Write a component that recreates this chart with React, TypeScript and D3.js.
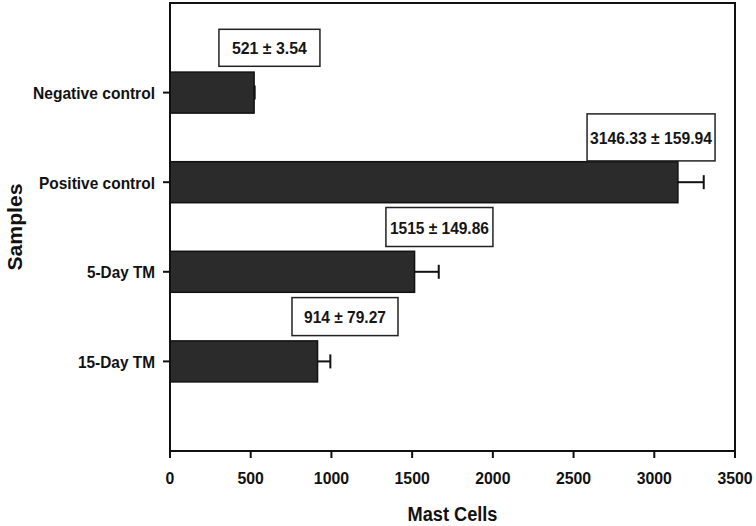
import React from "react";
import * as d3 from "d3";

const categories = ["Negative control", "Positive control", "5-Day TM", "15-Day TM"];
const means = [521, 3146.33, 1515, 914];
const errors = [3.54, 159.94, 149.86, 79.27];
const valueLabels = ["521 ± 3.54", "3146.33 ± 159.94", "1515 ± 149.86", "914 ± 79.27"];
const xTicks = [0, 500, 1000, 1500, 2000, 2500, 3000, 3500];

// annotation layout (label box centre in data units, box size in px, text width)
const labelCenters = [616, 2980, 1669, 1084];
const labelBox = [
  { w: 101, h: 37, tw: 75 },
  { w: 128, h: 47, tw: 122 },
  { w: 107, h: 39, tw: 99 },
  { w: 106, h: 38, tw: 82 },
];
const catLabelWidths = [122, 116, 68, 77];

const W = 756;
const H = 526;
const left = 170, right = 735, top = 3, bottom = 451;

export default function App() {
  const x = d3.scaleLinear().domain([0, 3500]).range([left, right]);
  const y = d3.scalePoint<string>().domain(categories).range([top, bottom]).padding(1);
  const step = y.step();
  const barH = 41;
  const font = "'Liberation Sans', Arial, sans-serif";

  return (
    <svg width={W} height={H} style={{ position: "absolute", left: 0, top: 0, background: "#fff" }} fontFamily={font}>
      <rect x={0} y={0} width={W} height={H} fill="#fff" />
      {/* bars */}
      {categories.map((c, i) => {
        const cy = y(c)!;
        return (
          <g key={c}>
            <rect x={x(0)} y={cy - barH / 2} width={x(means[i]) - x(0)} height={barH} fill="#2b2b2b" stroke="#111" strokeWidth={1.5} />
            <line x1={x(means[i])} x2={x(means[i] + errors[i])} y1={cy} y2={cy} stroke="#111" strokeWidth={2} />
            <line x1={x(means[i] + errors[i])} x2={x(means[i] + errors[i])} y1={cy - 7} y2={cy + 7} stroke="#111" strokeWidth={2} />
          </g>
        );
      })}
      {/* value label boxes */}
      {categories.map((c, i) => {
        const cy = y(c)! - step / 2;
        const cx = x(labelCenters[i]);
        const b = labelBox[i];
        return (
          <g key={"lab" + c}>
            <rect x={cx - b.w / 2} y={cy - b.h / 2} width={b.w} height={b.h} fill="#fff" stroke="#222" strokeWidth={1.5} />
            <text x={cx} y={cy + 1} textAnchor="middle" dominantBaseline="central" fontSize={17} fontWeight="bold" fill="#151515"
              textLength={b.tw} lengthAdjust="spacingAndGlyphs">{valueLabels[i]}</text>
          </g>
        );
      })}
      {/* frame */}
      <rect x={left} y={top} width={right - left} height={bottom - top} fill="none" stroke="#111" strokeWidth={2} />
      {/* x axis ticks */}
      {xTicks.map((t) => (
        <g key={t}>
          <line x1={x(t)} x2={x(t)} y1={bottom} y2={bottom + 7} stroke="#111" strokeWidth={2} />
          <text x={x(t)} y={478} textAnchor="middle" dominantBaseline="central" fontSize={17} fontWeight="bold" fill="#111"
            textLength={String(t).length * 8.8} lengthAdjust="spacingAndGlyphs">{t}</text>
        </g>
      ))}
      {/* y axis ticks */}
      {categories.map((c, i) => (
        <g key={"yt" + c}>
          <line x1={left - 7} x2={left} y1={y(c)!} y2={y(c)!} stroke="#111" strokeWidth={2} />
          <text x={155} y={y(c)! + 1} textAnchor="end" dominantBaseline="central" fontSize={17} fontWeight="bold" fill="#111"
            textLength={catLabelWidths[i]} lengthAdjust="spacingAndGlyphs">{c}</text>
        </g>
      ))}
      {/* titles */}
      <text x={(left + right) / 2} y={514} textAnchor="middle" dominantBaseline="central" fontSize={20} fontWeight="bold" fill="#111"
        textLength={90} lengthAdjust="spacingAndGlyphs">Mast Cells</text>
      <text transform={`translate(15,${(top + bottom) / 2}) rotate(-90)`} textAnchor="middle" dominantBaseline="central" fontSize={20} fontWeight="bold" fill="#111"
        textLength={87} lengthAdjust="spacingAndGlyphs">Samples</text>
    </svg>
  );
}
